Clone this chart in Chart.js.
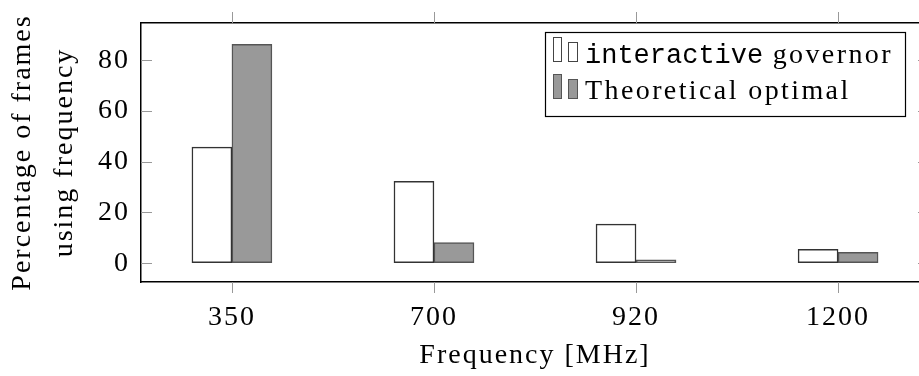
<!DOCTYPE html>
<html>
<head>
<meta charset="utf-8">
<script src="https://cdn.jsdelivr.net/npm/chart.js@4/dist/chart.umd.min.js"></script>
<style>
  html, body { margin: 0; padding: 0; background: #fff; overflow: hidden; }
  #wrap { width: 935px; height: 376px; }
</style>
</head>
<body>
<div id="wrap"><canvas id="chart" width="935" height="376"></canvas></div>
<script>
const frequencies = ["350", "700", "920", "1200"];
const interactiveGovernor = [45.8, 32.3, 15.4, 5.5];
const theoreticalOptimal = [86.3, 8.1, 1.3, 4.3];
const yTicks = [0, 20, 40, 60, 80];

const serif = "'Liberation Serif', 'DejaVu Serif', serif";
const mono = "'Liberation Mono', 'DejaVu Sans Mono', monospace";

function toPoints(arr) {
  return arr.map((v, i) => ({ x: i, y: v }));
}

// Computer Modern runs wider than Times, so space the letters out a bit
const spacingPlugin = {
  id: "spacing",
  beforeDraw(chart) {
    chart.ctx.letterSpacing = "2px";
  },
};

// pgfplots tick marks: x ticks stick out of the box, y ticks point in
const tickPlugin = {
  id: "pgfTicks",
  afterDatasetsDraw(chart) {
    const { ctx, chartArea, scales } = chart;
    ctx.save();
    ctx.strokeStyle = "#999";
    ctx.lineWidth = 1;
    ctx.beginPath();
    frequencies.forEach((_, i) => {
      const x = Math.round(scales.x.getPixelForValue(i)) + 0.5;
      ctx.moveTo(x, chartArea.bottom);
      ctx.lineTo(x, chartArea.bottom + 11);
      ctx.moveTo(x, chartArea.top);
      ctx.lineTo(x, chartArea.top - 11);
    });
    yTicks.forEach((v) => {
      const y = Math.round(scales.y.getPixelForValue(v)) + 0.5;
      ctx.moveTo(chartArea.left, y);
      ctx.lineTo(chartArea.left + 11, y);
      ctx.moveTo(chartArea.right, y);
      ctx.lineTo(chartArea.right - 11, y);
    });
    ctx.stroke();
    ctx.restore();
  },
};

// legend drawn by hand, pgfplots style (two little bars per entry)
const legendPlugin = {
  id: "pgfLegend",
  afterDraw(chart) {
    const ctx = chart.ctx;
    ctx.save();
    ctx.fillStyle = "#fff";
    ctx.fillRect(545, 32, 360, 84);
    ctx.strokeStyle = "#000";
    ctx.lineWidth = 1.2;
    ctx.strokeRect(545.5, 32.5, 360, 84);

    const rows = [
      { y: 37, fill: "#ffffff", stroke: "#444" },
      { y: 74, fill: "#999999", stroke: "#555" },
    ];
    rows.forEach((r) => {
      ctx.fillStyle = r.fill;
      ctx.strokeStyle = r.stroke;
      ctx.lineWidth = 1;
      ctx.fillRect(553.5, r.y + 0.5, 8, 24);
      ctx.strokeRect(553.5, r.y + 0.5, 8, 24);
      ctx.fillRect(568.5, r.y + 5.5, 9, 19);
      ctx.strokeRect(568.5, r.y + 5.5, 9, 19);
    });

    ctx.fillStyle = "#000";
    ctx.textBaseline = "alphabetic";
    ctx.textAlign = "left";
    ctx.letterSpacing = "0px";
    ctx.font = "27px " + mono;
    ctx.fillText("interactive", 585, 63);
    const w = ctx.measureText("interactive").width;
    ctx.letterSpacing = "2.4px";
    ctx.font = "28px " + serif;
    ctx.fillText(" governor", 585 + w, 63);
    ctx.fillText("Theoretical optimal", 585, 99);
    ctx.restore();
  },
};

const tickFont = { family: serif, size: 28 };
const noGrid = { drawOnChartArea: false, drawTicks: false };
const frame = { color: "#000", width: 1.5 };

new Chart(document.getElementById("chart"), {
  type: "bar",
  data: {
    datasets: [
      {
        label: "interactive governor",
        data: toPoints(interactiveGovernor),
        backgroundColor: "#ffffff",
        borderColor: "#333333",
        borderWidth: 1.5,
        borderSkipped: false,
        barThickness: 40,
      },
      {
        label: "Theoretical optimal",
        data: toPoints(theoreticalOptimal),
        backgroundColor: "#999999",
        borderColor: "#555555",
        borderWidth: 1.5,
        borderSkipped: false,
        barThickness: 40,
      },
    ],
  },
  options: {
    responsive: false,
    animation: false,
    layout: { padding: { left: 0, right: 6, top: 0, bottom: 0 } },
    plugins: {
      legend: { display: false },
      tooltip: { enabled: false },
    },
    scales: {
      x: {
        type: "linear",
        position: "bottom",
        offset: false,
        min: -0.45,
        max: 3.45,
        afterBuildTicks: (s) => { s.ticks = frequencies.map((_, i) => ({ value: i })); },
        afterFit: (s) => { s.height = 94; s.paddingLeft = 0; s.paddingRight = 0; },
        ticks: {
          color: "#000",
          font: tickFont,
          padding: 19,
          maxRotation: 0,
          autoSkip: false,
          callback: (v) => frequencies[v],
        },
        grid: noGrid,
        border: frame,
        title: {
          display: true,
          text: "Frequency [MHz]",
          color: "#000",
          font: { family: serif, size: 28 },
          padding: { top: 0, bottom: 4 },
        },
      },
      xTop: {
        type: "linear",
        position: "top",
        offset: false,
        min: -0.45,
        max: 3.45,
        afterFit: (s) => { s.height = 23; s.paddingLeft = 0; s.paddingRight = 0; },
        ticks: { display: false },
        grid: noGrid,
        border: frame,
      },
      y: {
        position: "left",
        min: -7.4,
        max: 94.7,
        afterBuildTicks: (s) => { s.ticks = yTicks.map((v) => ({ value: v })); },
        afterFit: (s) => { s.width = 141; s.paddingTop = 0; s.paddingBottom = 0; },
        ticks: { color: "#000", font: tickFont, padding: 11 },
        grid: noGrid,
        border: frame,
        title: {
          display: true,
          text: ["Percentage of frames", "using frequency"],
          color: "#000",
          font: { family: serif, size: 28, lineHeight: 1.5 },
          padding: { top: 2, bottom: 0 },
        },
      },
      yRight: {
        position: "right",
        min: -7.4,
        max: 94.7,
        afterFit: (s) => { s.width = 0; s.paddingTop = 0; s.paddingBottom = 0; },
        ticks: { display: false },
        grid: noGrid,
        border: frame,
      },
    },
  },
  plugins: [spacingPlugin, tickPlugin, legendPlugin],
});
</script>
</body>
</html>
